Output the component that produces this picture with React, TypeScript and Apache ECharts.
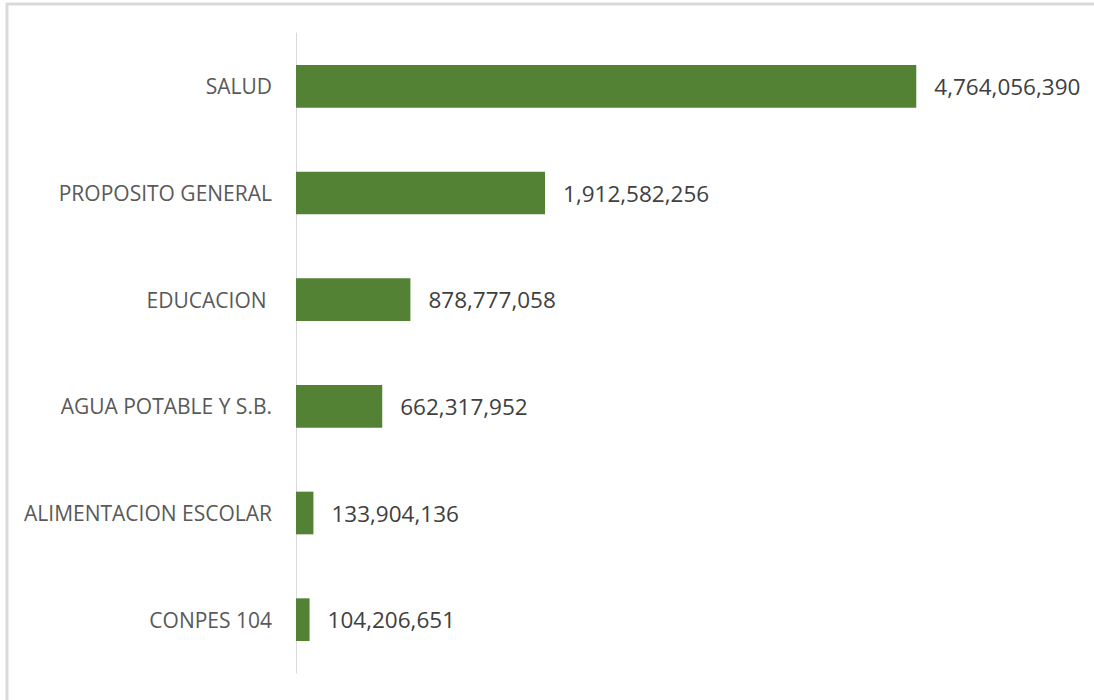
import React, { useEffect, useRef } from "react";
import * as echarts from "echarts";

const categories = [
  "SALUD",
  "PROPOSITO GENERAL",
  "EDUCACION ",
  "AGUA POTABLE Y S.B.",
  "ALIMENTACION ESCOLAR",
  "CONPES 104",
];
const values = [4764056390, 1912582256, 878777058, 662317952, 133904136, 104206651];

export default function App() {
  const ref = useRef<HTMLDivElement>(null);
  useEffect(() => {
    if (!ref.current) return;
    const chart = echarts.init(ref.current, undefined, { renderer: "svg" });
    chart.setOption({
      animation: false,
      backgroundColor: "#ffffff",
      graphic: [
        {
          type: "rect",
          shape: { x: 7, y: 4, width: 1200, height: 800 },
          style: { fill: "none", stroke: "#d9d9d9", lineWidth: 3 },
          silent: true,
        },
      ],
      grid: { left: 296, right: 147, top: 33, bottom: 27, containLabel: false },
      xAxis: {
        type: "value",
        min: 0,
        max: 5000000000,
        show: false,
      },
      yAxis: {
        type: "category",
        data: categories,
        inverse: true,
        axisLine: { show: true, lineStyle: { color: "#d9d9d9", width: 1 } },
        axisTick: { show: false },
        axisLabel: {
          margin: 24,
          color: "#595959",
          fontSize: 21,
          fontFamily: "Open Sans",
        },
      },
      series: [
        {
          type: "bar",
          data: values,
          barWidth: "40%",
          itemStyle: { color: "#548235" },
          label: {
            show: true,
            position: "right",
            distance: 18,
            color: "#404040",
            fontSize: 22.5,
            fontFamily: "Open Sans",
            formatter: (p: any) => Number(p.value).toLocaleString("en-US"),
          },
        },
      ],
    });
    return () => chart.dispose();
  }, []);
  return (
    <div
      ref={ref}
      style={{ position: "fixed", left: 0, top: 0, width: 1094, height: 700 }}
    />
  );
}
